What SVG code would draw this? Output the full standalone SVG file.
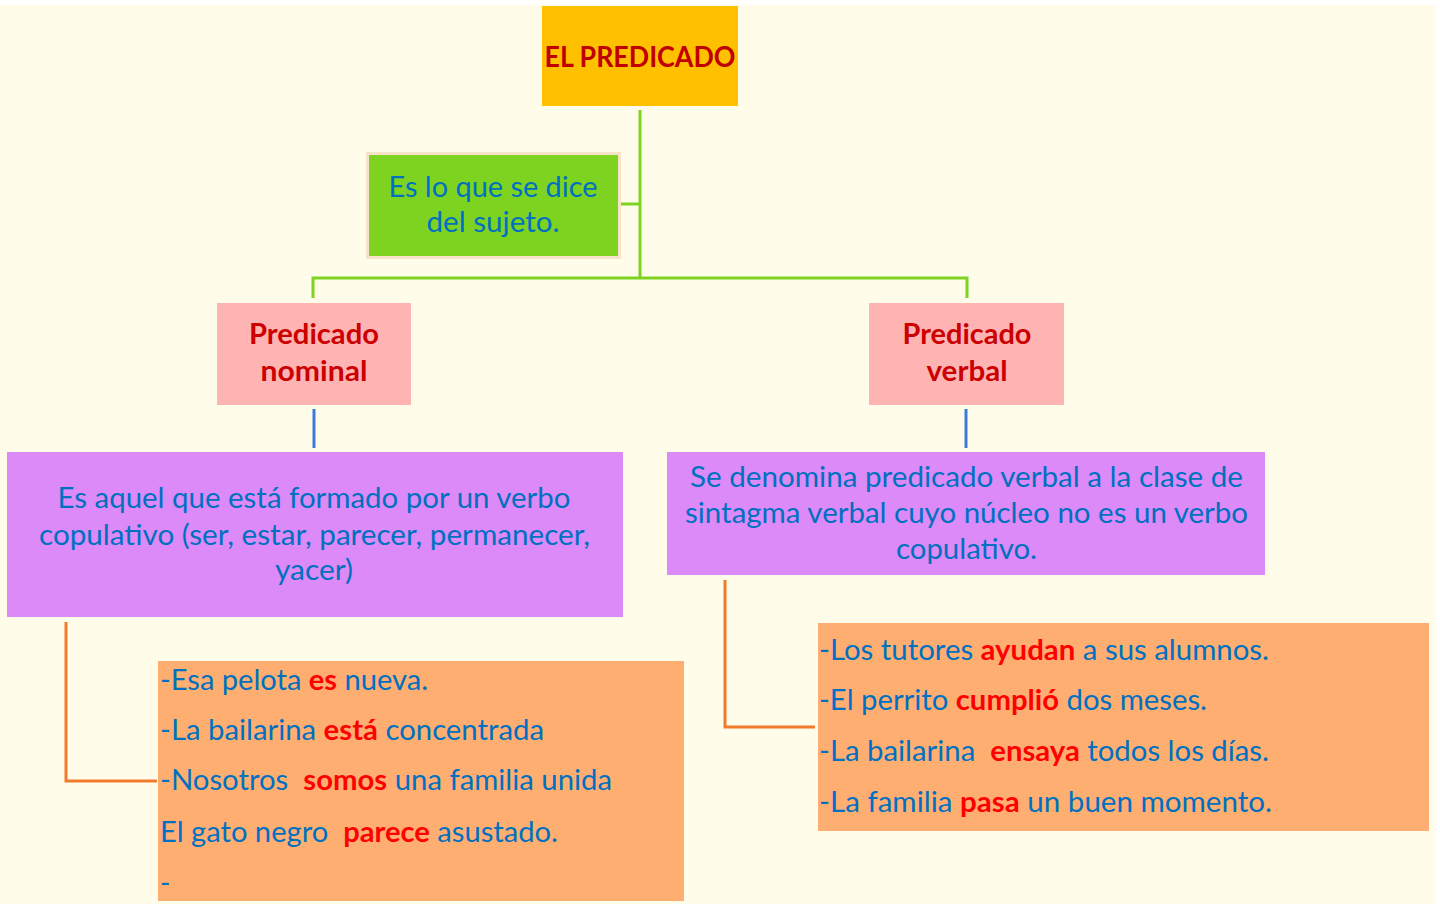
<svg xmlns="http://www.w3.org/2000/svg" width="1440" height="904" viewBox="0 0 1440 904">
<style>
.t{font-family:Lato,"Open Sans","Liberation Sans",sans-serif;}
.title{font-size:29px;font-weight:bold;fill:#C00000;text-anchor:middle}
.pink{font-size:28px;font-weight:bold;fill:#CC0000;text-anchor:middle}
.blue{font-size:28px;fill:#0070C0}
.c{text-anchor:middle}
.r{fill:#FF0000;font-weight:bold}
.g{stroke:#7ED321;stroke-width:3;fill:none}
.b{stroke:#3C7BDC;stroke-width:3;fill:none}
.o{stroke:#F27A2A;stroke-width:3;fill:none}
</style>
<rect x="0" y="0" width="1440" height="904" fill="#FFFFFF"/>
<rect x="0" y="5" width="1436" height="899" fill="#FFFDEA"/>
<g id="connectors">
<path class="g" d="M640,110 V278 M313,298 V278 H967 V298 M620,204 H640"/>
<path class="b" d="M314,409 V448 M966,409 V448"/>
<path class="o" d="M66,622 V781 H157"/>
<path class="o" d="M725,580 V727 H815"/>
</g>
<g id="title">
<rect x="542" y="6" width="196" height="100" fill="#FFC000"/>
<text class="t title" x="640" y="67" textLength="191" lengthAdjust="spacingAndGlyphs">EL PREDICADO</text>
</g>
<g id="definicion">
<rect x="367.5" y="153.5" width="252" height="104" fill="#7ED321" stroke="#F6E3C9" stroke-width="3"/>
<text class="t blue c" x="493" y="197" textLength="209" lengthAdjust="spacingAndGlyphs">Es lo que se dice</text>
<text class="t blue c" x="493" y="232" textLength="133" lengthAdjust="spacingAndGlyphs">del sujeto.</text>
</g>
<g id="pred-nominal">
<rect x="217" y="303" width="194" height="102" fill="#FFB4B4"/>
<text class="t pink" x="314" y="344" textLength="130" lengthAdjust="spacingAndGlyphs">Predicado</text>
<text class="t pink" x="314" y="381" textLength="107" lengthAdjust="spacingAndGlyphs">nominal</text>
</g>
<g id="pred-verbal">
<rect x="869" y="303" width="195" height="102" fill="#FFB4B4"/>
<text class="t pink" x="967" y="344" textLength="129" lengthAdjust="spacingAndGlyphs">Predicado</text>
<text class="t pink" x="967" y="381" textLength="81" lengthAdjust="spacingAndGlyphs">verbal</text>
</g>
<g id="def-nominal">
<rect x="7" y="452" width="616" height="165" fill="#DC8AF7"/>
<text class="t blue c" x="314" y="508" textLength="513" lengthAdjust="spacingAndGlyphs">Es aquel que está formado por un verbo</text>
<text class="t blue c" x="314.5" y="545" textLength="551" lengthAdjust="spacingAndGlyphs">copulativo (ser, estar, parecer, permanecer,</text>
<text class="t blue c" x="314" y="580" textLength="78" lengthAdjust="spacingAndGlyphs">yacer)</text>
</g>
<g id="def-verbal">
<rect x="667" y="452" width="598" height="123" fill="#DC8AF7"/>
<text class="t blue c" x="966.5" y="487" textLength="553" lengthAdjust="spacingAndGlyphs">Se denomina predicado verbal a la clase de</text>
<text class="t blue c" x="966.5" y="523" textLength="563" lengthAdjust="spacingAndGlyphs">sintagma verbal cuyo núcleo no es un verbo</text>
<text class="t blue c" x="966.5" y="559" textLength="141" lengthAdjust="spacingAndGlyphs">copulativo.</text>
</g>
<g id="ejemplos-nominal">
<rect x="158" y="661" width="526" height="240" fill="#FFAE72"/>
<text class="t blue" x="160" y="690" textLength="268" lengthAdjust="spacingAndGlyphs">-Esa pelota <tspan class="r">es</tspan> nueva.</text>
<text class="t blue" x="160" y="740" textLength="384" lengthAdjust="spacingAndGlyphs">-La bailarina <tspan class="r">está</tspan> concentrada</text>
<text class="t blue" x="160" y="790" textLength="452" lengthAdjust="spacingAndGlyphs" xml:space="preserve">-Nosotros  <tspan class="r">somos</tspan> una familia unida</text>
<text class="t blue" x="160" y="842" textLength="398" lengthAdjust="spacingAndGlyphs" xml:space="preserve">El gato negro  <tspan class="r">parece</tspan> asustado.</text>
<text class="t blue" x="160" y="893">-</text>
</g>
<g id="ejemplos-verbal">
<rect x="818" y="623" width="611" height="208" fill="#FFAE72"/>
<text class="t blue" x="819" y="660" textLength="450" lengthAdjust="spacingAndGlyphs">-Los tutores <tspan class="r">ayudan</tspan> a sus alumnos.</text>
<text class="t blue" x="819" y="710" textLength="388" lengthAdjust="spacingAndGlyphs">-El perrito <tspan class="r">cumplió</tspan> dos meses.</text>
<text class="t blue" x="819" y="761" textLength="450" lengthAdjust="spacingAndGlyphs" xml:space="preserve">-La bailarina  <tspan class="r">ensaya</tspan> todos los días.</text>
<text class="t blue" x="819" y="812" textLength="453" lengthAdjust="spacingAndGlyphs">-La familia <tspan class="r">pasa</tspan> un buen momento.</text>
</g>
</svg>
